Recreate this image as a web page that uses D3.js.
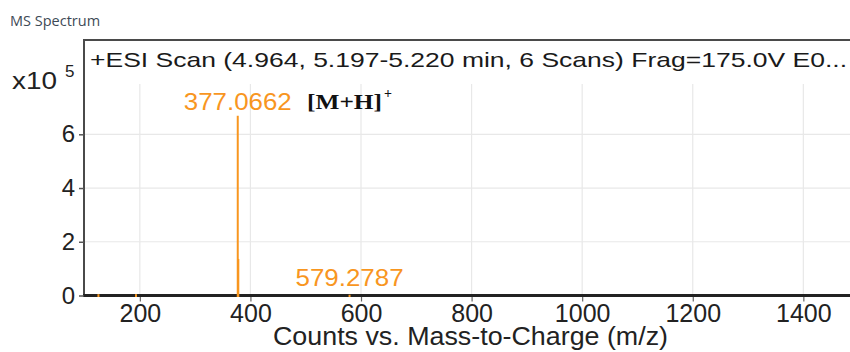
<!DOCTYPE html>
<html>
<head>
<meta charset="utf-8">
<script src="https://cdn.jsdelivr.net/npm/d3@7"></script>
<style>
  html, body { margin: 0; padding: 0; background: #fff; }
  svg { display: block; }
</style>
</head>
<body>
<svg id="chart" width="850" height="352"></svg>
<script>
// Spectrum peaks: m/z and counts (x10^5)
const peakMz     = [125.1, 193.0, 377.0662, 378.07, 579.2787];
const peakCounts = [0.05, 0.05, 6.69, 1.36, 0.03];
// Annotated peaks
const labelMz    = [377.0662, 579.2787];
const labelText  = ["377.0662", "579.2787"];
const labelY     = [6.9, 0.35];
// Axis ticks
const xTicks = [200, 400, 600, 800, 1000, 1200, 1400];
const yTicks = [0, 2, 4, 6];

const titleText = "+ESI Scan (4.964, 5.197-5.220 min, 6 Scans) Frag=175.0V E0...";
const orange = "#f8961f";
const sans = "Liberation Sans, Arial, Helvetica, sans-serif";

const svg = d3.select("#chart");
const plotL = 84, plotT = 40, plotB = 295.5, plotR = 852;

const x = d3.scaleLinear().domain([99, 1488]).range([plotL, plotR]);
const y = d3.scaleLinear().domain([0, 9.51]).range([plotB, plotT]);

// Window caption
svg.append("text")
  .attr("x", 10).attr("y", 26)
  .attr("font-family", "Open Sans, DejaVu Sans, sans-serif")
  .attr("font-size", 14.5).attr("fill", "#3e4a56")
  .text("MS Spectrum");

// Grid
const grid = svg.append("g");
grid.selectAll("line.v").data(xTicks).join("line")
  .attr("class", "v")
  .attr("x1", d => x(d)).attr("x2", d => x(d))
  .attr("y1", 84).attr("y2", plotB)
  .attr("stroke", "#e8e8e8").attr("stroke-width", 1.2);
grid.selectAll("line.h").data(yTicks.filter(d => d > 0)).join("line")
  .attr("class", "h")
  .attr("x1", plotL).attr("x2", plotR)
  .attr("y1", d => y(d)).attr("y2", d => y(d))
  .attr("stroke", "#e8e8e8").attr("stroke-width", 1.2);

// Frame (left and top)
svg.append("path")
  .attr("d", `M${plotL},${plotB} V${plotT} H${plotR}`)
  .attr("fill", "none").attr("stroke", "#4a4a4a").attr("stroke-width", 2);

// X axis
const xAxis = svg.append("g")
  .attr("transform", `translate(0,${plotB})`)
  .call(d3.axisBottom(x).tickValues(xTicks).tickFormat(d3.format("d")).tickSize(6).tickPadding(3));
xAxis.select(".domain").remove();
xAxis.selectAll(".tick line").attr("stroke", "#666").attr("stroke-width", 1.2);
xAxis.selectAll(".tick text")
  .attr("font-family", sans)
  .attr("font-size", 25).attr("fill", "#222");
svg.append("line")
  .attr("x1", plotL - 1).attr("x2", plotR)
  .attr("y1", plotB).attr("y2", plotB)
  .attr("stroke", "#222").attr("stroke-width", 3);

// Peaks, drawn over the baseline
svg.append("g").selectAll("line").data(peakMz).join("line")
  .attr("x1", d => x(d)).attr("x2", d => x(d))
  .attr("y1", y(0) + 1.5).attr("y2", (d, i) => y(peakCounts[i]))
  .attr("stroke", orange).attr("stroke-width", 2);

// Y axis
const yAxis = svg.append("g")
  .attr("transform", `translate(${plotL},0)`)
  .call(d3.axisLeft(y).tickValues(yTicks).tickFormat(d3.format("d")).tickSize(5).tickPadding(4));
yAxis.select(".domain").remove();
yAxis.selectAll(".tick line").attr("stroke", "#555").attr("stroke-width", 1.5);
yAxis.selectAll(".tick text")
  .attr("font-family", sans)
  .attr("font-size", 24).attr("fill", "#222");

// Exponent label
svg.append("text")
  .attr("x", 12).attr("y", 89)
  .attr("font-family", sans)
  .attr("font-size", 24).attr("fill", "#222")
  .attr("textLength", 45).attr("lengthAdjust", "spacingAndGlyphs")
  .text("x10");
svg.append("text")
  .attr("x", 65).attr("y", 77)
  .attr("font-family", sans)
  .attr("font-size", 17).attr("fill", "#222")
  .text("5");

// Title inside frame
svg.append("text")
  .attr("x", 90).attr("y", 67)
  .attr("font-family", sans)
  .attr("font-size", 21).attr("fill", "#1a1a1a")
  .attr("textLength", 757).attr("lengthAdjust", "spacingAndGlyphs")
  .text(titleText);

// X axis title
svg.append("text")
  .attr("x", 273).attr("y", 345)
  .attr("font-family", sans)
  .attr("font-size", 25).attr("fill", "#222")
  .attr("textLength", 395).attr("lengthAdjust", "spacingAndGlyphs")
  .text("Counts vs. Mass-to-Charge (m/z)");

// Peak labels
svg.append("g").selectAll("text").data(labelMz).join("text")
  .attr("x", d => x(d) - 54).attr("y", (d, i) => y(labelY[i]))
  .attr("font-family", sans)
  .attr("font-size", 24).attr("fill", orange)
  .attr("textLength", 108).attr("lengthAdjust", "spacingAndGlyphs")
  .text((d, i) => labelText[i]);

// Ion annotation
svg.append("text")
  .attr("x", 307).attr("y", 109)
  .attr("font-family", "Liberation Serif, Times New Roman, serif")
  .attr("font-weight", "bold")
  .attr("font-size", 20).attr("fill", "#111")
  .attr("textLength", 75).attr("lengthAdjust", "spacingAndGlyphs")
  .text("[M+H]");
svg.append("text")
  .attr("x", 384).attr("y", 98)
  .attr("font-family", "Liberation Serif, Times New Roman, serif")
  .attr("font-weight", "bold")
  .attr("font-size", 14).attr("fill", "#111")
  .text("+");
</script>
</body>
</html>
